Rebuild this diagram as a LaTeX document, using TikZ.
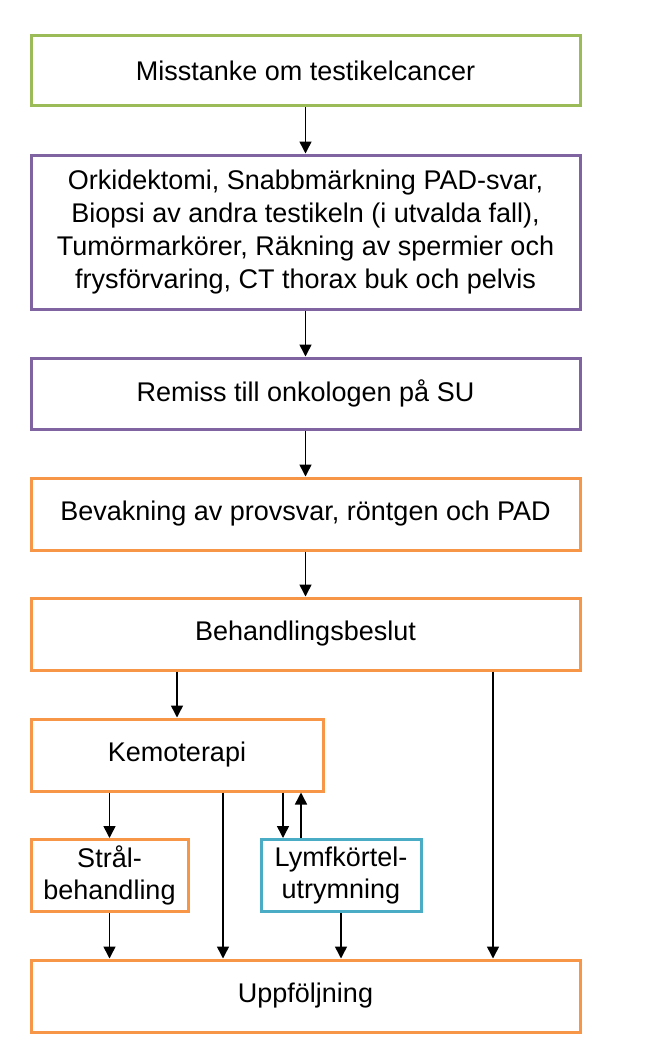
\documentclass[tikz,border=0pt]{standalone}
\usepackage{fontspec}
\setmainfont{Liberation Sans}
\usetikzlibrary{arrows.meta}
\definecolor{boxgreen}{HTML}{9BBB59}
\definecolor{boxpurple}{HTML}{8064A2}
\definecolor{boxorange}{HTML}{F79646}
\definecolor{boxcyan}{HTML}{4BACC6}
\begin{document}
\begin{tikzpicture}[x=0.5pt, y=-0.5pt,
  box/.style={rectangle, draw, line width=1.5pt, align=center, inner sep=0pt,
    minimum height=36pt, font=\fontsize{13.5}{16.4}\selectfont},
  arr/.style={-{Triangle[length=6pt, width=6pt]}, line width=0.75pt}]
\useasboundingbox (0,0) rectangle (644,1054);
% Main column
\node[box, draw=boxgreen, minimum width=274.5pt, minimum height=35pt] (misstanke) at (305.5,71) {Misstanke om testikelcancer};
\node[box, draw=boxpurple, minimum width=274.5pt, minimum height=77pt] (utredning) at (305.5,232) {Orkidektomi, Snabbmärkning PAD-svar,\\Biopsi av andra testikeln (i utvalda fall),\\Tumörmarkörer, Räkning av spermier och\\frysförvaring, CT thorax buk och pelvis};
\node[box, draw=boxpurple, minimum width=274.5pt, minimum height=35.5pt] (remiss) at (305.5,393.5) {Remiss till onkologen på SU};
\node[box, draw=boxorange, minimum width=274.5pt] (bevakning) at (305.5,514) {Bevakning av provsvar, röntgen och PAD};
\node[box, draw=boxorange, minimum width=274.5pt] (beslut) at (305.5,634) {Behandlingsbeslut};
% Treatment
\node[box, draw=boxorange, minimum width=146pt] (kemo) at (177,755) {Kemoterapi};
\node[box, draw=boxorange, minimum width=78.5pt] (stral) at (109.5,875.5) {Strål-\\behandling};
\node[box, draw=boxcyan, minimum width=80pt] (lymf) at (341,875.5) {Lymfkörtel-\\utrymning};
\node[box, draw=boxorange, minimum width=274.5pt] (uppf) at (305.5,996) {Uppföljning};

\coordinate (kx) at (223,0);
\coordinate (bx) at (493,0);
\coordinate (ldown) at (283,0);
\coordinate (lup) at (301,0);

\draw[arr] (misstanke) -- (utredning);
\draw[arr] (utredning) -- (remiss);
\draw[arr] (remiss) -- (bevakning);
\draw[arr] (bevakning) -- (beslut);
\draw[arr] (beslut.south -| kemo) -- (kemo);
\draw[arr] (beslut.south -| bx) -- (uppf.north -| bx);
\draw[arr] (kemo.south -| stral) -- (stral);
\draw[arr] (kemo.south -| kx) -- (uppf.north -| kx);
\draw[arr] (kemo.south -| ldown) -- (lymf.north -| ldown);
\draw[arr] (lymf.north -| lup) -- (kemo.south -| lup);
\draw[arr] (stral) -- (uppf.north -| stral);
\draw[arr] (lymf) -- (uppf.north -| lymf);
\end{tikzpicture}
\end{document}
